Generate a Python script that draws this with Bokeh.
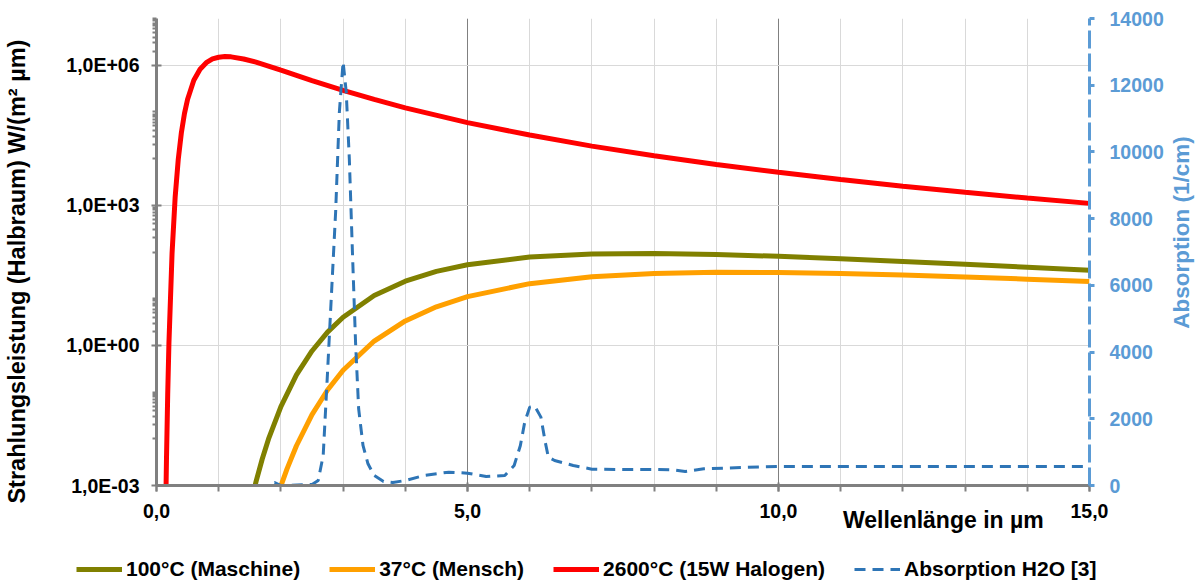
from math import pi
from bokeh.plotting import figure
from bokeh.layouts import column, row
from bokeh.models import Range1d, LinearAxis, LinearScale, FixedTicker, Legend, LegendItem, Label
from bokeh.embed import file_html
from bokeh.resources import INLINE

# ---- data ----
red_x = [0.15, 0.16, 0.18, 0.2, 0.25, 0.3, 0.35, 0.4, 0.45, 0.5, 0.6, 0.7, 0.8, 0.9, 1.0, 1.1, 1.2,
         1.4, 1.6, 1.8, 2.0, 2.5, 3, 3.5, 4, 5, 6, 7, 8, 9, 10, 11, 12, 13, 14, 15]
red_y = [4.7e-4, 3.4e-3, 0.088, 1.13, 93, 1.5e3, 9.7e3, 3.6e4, 9.3e4, 1.87e5, 4.75e5, 8.2e5, 1.13e6,
         1.36e6, 1.48e6, 1.53e6, 1.51e6, 1.36e6, 1.16e6, 9.6e5, 7.8e5, 4.7e5, 2.9e5, 1.85e5, 1.22e5,
         5.9e4, 3.2e4, 1.85e4, 1.15e4, 7.5e3, 5.1e3, 3.55e3, 2.57e3, 1.9e3, 1.43e3, 1.1e3]

olive_x = [1.5, 1.6, 1.7, 1.8, 2.0, 2.25, 2.5, 2.75, 3, 3.5, 4, 4.5, 5, 6, 7, 8, 9, 10, 11, 12, 13, 14, 15]
olive_y = [3.3e-4, 1.21e-3, 3.7e-3, 9.8e-3, 0.049, 0.233, 0.76, 1.93, 4.0, 11.7, 23.7, 38.4, 53.4,
           77.8, 90.4, 92.7, 88.4, 80.7, 71.8, 62.9, 54.6, 47.2, 40.8]

orange_x = [1.9, 2.0, 2.1, 2.25, 2.5, 2.75, 3, 3.5, 4, 4.5, 5, 6, 7, 8, 9, 10, 11, 12, 13, 14, 15]
orange_y = [3.7e-4, 9.8e-4, 2.3e-3, 7.1e-3, 0.033, 0.111, 0.294, 1.24, 3.34, 6.7, 11.1, 21.0, 29.4,
            34.6, 36.7, 36.4, 34.7, 32.1, 29.2, 26.2, 23.4]

abs_x = [0.75, 1.5, 1.8, 1.9, 2.0, 2.5, 2.6, 2.68, 2.75, 2.82, 2.88, 2.94, 3.0, 3.05, 3.1, 3.15, 3.2,
         3.25, 3.32, 3.4, 3.5, 3.65, 3.8, 4.0, 4.3, 4.7, 5.0, 5.3, 5.6, 5.75, 5.85, 5.92, 6.0, 6.08,
         6.18, 6.25, 6.3, 6.4, 6.7, 7.0, 7.5, 8.0, 8.3, 8.5, 8.8, 9.4, 10.0, 11, 12, 13, 14, 15]
abs_y = [0, 0, 0, 90, 0, 30, 150, 900, 3400, 6000, 8200, 11200, 12700, 11800, 9800, 7000, 4300,
         2300, 1200, 650, 300, 120, 90, 150, 300, 400, 370, 270, 300, 600, 1200, 1900, 2350, 2380,
         2050, 1300, 850, 750, 600, 490, 480, 480, 470, 420, 500, 540, 570, 570, 570, 570, 570, 570]

series_labels = ["100°C (Maschine)", "37°C (Mensch)", "2600°C (15W Halogen)", "Absorption H2O [3]"]
series_colors = ["#808000", "#FFA000", "#FF0000", "#2E75B6"]
x_tick_labels = {0: "0,0", 5: "5,0", 10: "10,0", 15: "15,0"}
y_tick_labels = {0.001: "1,0E-03", 1: "1,0E+00", 1000: "1,0E+03", 1000000: "1,0E+06"}
abs_ticks = [0, 2000, 4000, 6000, 8000, 10000, 12000, 14000]
x_title = "Wellenlänge in µm"
y_title = "Strahlungsleistung (Halbraum) W/(m² µm)"
y2_title = "Absorption (1/cm)"

FONT = "Liberation Sans"
GRAY = "#808080"
BLUE_AX = "#5B9BD5"
NB = "\u00a0"
DASH = "11 7"


def bare_axis(ax):
    ax.axis_line_color = None
    ax.major_tick_line_color = None
    ax.minor_tick_line_color = None
    ax.major_tick_in = 0
    ax.major_tick_out = 0
    ax.major_label_text_font = FONT
    ax.major_label_text_font_style = "bold"


def blank_fig(w, h, xr, yr):
    f = figure(width=w, height=h, output_backend="svg", toolbar_location=None,
               x_range=Range1d(*xr), y_range=Range1d(*yr), x_axis_location=None, y_axis_location=None,
               min_border=0, min_border_left=0, min_border_right=0, min_border_top=0,
               min_border_bottom=0)
    f.outline_line_color = None
    f.grid.visible = False
    return f


p = figure(width=1166, height=545, output_backend="svg", toolbar_location=None,
           x_range=Range1d(0, 15), y_range=Range1d(1e-3, 1e7), y_axis_type="log",
           min_border_left=156, min_border_right=76, min_border_top=18, min_border_bottom=60)
p.outline_line_color = None
p.extra_y_ranges = {"abs": Range1d(0, 14000)}
p.extra_y_scales = {"abs": LinearScale()}

# x axis
xax = p.xaxis[0]
xax.ticker = FixedTicker(ticks=[0, 5, 10, 15], minor_ticks=list(range(16)))
xax.major_label_overrides = x_tick_labels
# y axis
yax = p.yaxis[0]
minor_y = ([k * 1e6 for k in range(2, 11)] + [k * 1e4 for k in range(1, 11)] +
           [k * 1e2 for k in range(1, 10)] + [float(k) for k in range(2, 11)] +
           [k * 1e-2 for k in range(1, 11)])
yax.ticker = FixedTicker(ticks=[1e-3, 1, 1e3, 1e6], minor_ticks=minor_y)
yax.major_label_overrides = y_tick_labels

for ax in (xax, yax):
    ax.axis_line_color = GRAY
    ax.axis_line_width = 3
    ax.major_tick_line_color = GRAY
    ax.major_tick_line_width = 2
    ax.minor_tick_line_color = GRAY
    ax.minor_tick_line_width = 2
    ax.major_label_text_font = FONT
    ax.major_label_text_font_style = "bold"
    ax.major_label_text_font_size = "19.5px"
    ax.major_label_text_color = "black"

xax.major_tick_in = 3
xax.major_tick_out = 6
xax.minor_tick_in = 0
xax.minor_tick_out = 6
xax.major_label_standoff = 12
yax.major_tick_in = 5
yax.major_tick_out = 5
yax.minor_tick_in = 0
yax.minor_tick_out = 4
yax.major_label_standoff = 12
yax.axis_label = y_title + NB * 6
yax.axis_label_standoff = 33
yax.axis_label_text_font = FONT
yax.axis_label_text_font_style = "bold"
yax.axis_label_text_font_size = "23.5px"
yax.axis_label_text_color = "black"

# second bottom axis only carrying the x title
tax = LinearAxis(ticker=FixedTicker(ticks=[12.65], minor_ticks=[]))
tax.major_label_overrides = {12.65: x_title}
bare_axis(tax)
tax.major_label_standoff = -14
tax.major_label_text_font_size = "23px"
tax.major_label_text_color = "black"
p.add_layout(tax, "below")

# right axis
rax = LinearAxis(y_range_name="abs", ticker=FixedTicker(ticks=abs_ticks))
rax.axis_line_color = BLUE_AX
rax.axis_line_width = 3
rax.axis_line_dash = "18 5"
rax.major_tick_line_color = BLUE_AX
rax.major_tick_line_width = 3
rax.major_tick_in = 0
rax.major_tick_out = 5
rax.minor_tick_line_color = None
rax.major_label_text_font = FONT
rax.major_label_text_font_style = "bold"
rax.major_label_text_font_size = "19.5px"
rax.major_label_text_color = BLUE_AX
rax.major_label_standoff = 15
p.add_layout(rax, "right")

# grids
p.xgrid.grid_line_color = GRAY
p.xgrid.grid_line_width = 1
p.xgrid.minor_grid_line_color = "#D9D9D9"
p.ygrid.grid_line_color = "#D9D9D9"
p.ygrid.minor_grid_line_color = None

# series
p.line(olive_x, olive_y, line_color=series_colors[0], line_width=5)
p.line(orange_x, orange_y, line_color=series_colors[1], line_width=5)
p.line(red_x, red_y, line_color=series_colors[2], line_width=5)
p.line(abs_x, abs_y, y_range_name="abs", line_color=series_colors[3], line_width=3, line_dash=DASH)

# narrow strip on the right carrying the right axis title (pixel coordinates)
rt = blank_fig(29, 545, (0, 29), (0, 545))
rt.add_layout(Label(x=14.5, y=313, angle=pi / 2, text=y2_title, text_align="center",
                    text_baseline="middle", text_font=FONT, text_font_style="bold",
                    text_font_size="22.5px", text_color=BLUE_AX))

# legend strip underneath
q = blank_fig(1195, 36, (0, 1), (0, 1))
items = []
for i, lab in enumerate(series_labels):
    kw = dict(line_dash=DASH, line_width=3) if i == 3 else dict(line_width=5)
    r = q.line([-5, -4], [-5, -4], line_color=series_colors[i], **kw)
    items.append(LegendItem(label=lab, renderers=[r]))
legend = Legend(items=items, orientation="horizontal", location=(76, 0),
                border_line_color=None, background_fill_alpha=0,
                label_text_font=FONT, label_text_font_style="bold", label_text_font_size="21px",
                label_text_color="black",
                glyph_width=46, glyph_height=20, label_standoff=4, spacing=29, padding=0, margin=0)
q.add_layout(legend)

for fig in (p, q, rt):
    if "frame_align" in fig.properties():
        fig.frame_align = False

open("out.html", "w").write(file_html(column(row(p, rt, spacing=0), q, spacing=0), INLINE))
